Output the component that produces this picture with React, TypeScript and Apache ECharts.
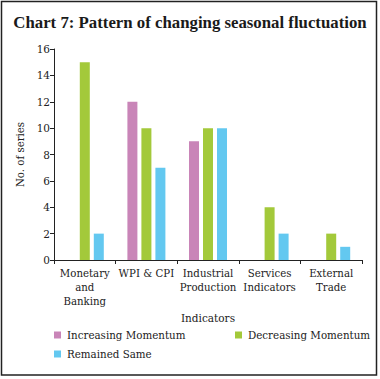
import React, { useEffect, useRef } from "react";
import * as echarts from "echarts";

const categories = ["Monetary\nand\nBanking", "WPI & CPI", "Industrial\nProduction", "Services\nIndicators", "External\nTrade"];
const increasingMomentum = [0, 12, 9, 0, 0];
const decreasingMomentum = [15, 10, 10, 4, 2];
const remainedSame = [2, 7, 10, 2, 1];
const seriesNames = ["Increasing Momentum", "Decreasing Momentum", "Remained Same"];
const colors = ["#c985b8", "#a3c93a", "#63c8f0"];

const FONT = "DejaVu Serif";
const TFONT = "Liberation Serif";

export default function App() {
  const ref = useRef<HTMLDivElement>(null);
  useEffect(() => {
    document.body.style.margin = "0";
    const chart = echarts.init(ref.current!, null, { renderer: "svg" });
    const data = [increasingMomentum, decreasingMomentum, remainedSame];
    const legendPos = [
      { left: 49, top: 325 },
      { left: 230, top: 325 },
      { left: 49, top: 344 },
    ];
    chart.setOption({
      animation: false,
      textStyle: { fontFamily: FONT },
      title: {
        text: "Chart 7: Pattern of changing seasonal fluctuation",
        left: "center",
        top: 9,
        textStyle: { fontFamily: TFONT, fontSize: 16.8, fontWeight: "bold", color: "#1a1a1a" },
      },
      graphic: [
        {
          type: "rect",
          shape: { x: 1.5, y: 1.5, width: 375, height: 373.5 },
          style: { fill: "none", stroke: "#222", lineWidth: 1.5 },
          silent: true,
        },
      ],
      legend: seriesNames.map((n, i) => ({
        data: [n],
        ...legendPos[i],
        orient: "horizontal",
        itemWidth: 7,
        itemHeight: 7,
        icon: "rect",
        textStyle: { fontFamily: FONT, fontSize: 10.3, color: "#222", padding: [0, 0, 0, 1] },
      })),
      grid: { left: 54, right: 18, top: 49, bottom: 119, containLabel: false },
      xAxis: {
        type: "category",
        data: categories,
        name: "Indicators",
        nameLocation: "middle",
        nameGap: 49,
        nameTextStyle: { fontFamily: FONT, fontSize: 10.5, color: "#222" },
        axisLine: { lineStyle: { color: "#222", width: 1 } },
        axisTick: { show: true, length: 4, lineStyle: { color: "#222" } },
        axisLabel: { fontFamily: FONT, fontSize: 10.2, color: "#222", lineHeight: 14, margin: 6, interval: 0 },
      },
      yAxis: {
        type: "value",
        min: 0,
        max: 16,
        interval: 2,
        name: "No. of series",
        nameLocation: "middle",
        nameGap: 24,
        nameRotate: 90,
        nameTextStyle: { fontFamily: FONT, fontSize: 10.2, color: "#222" },
        axisLine: { show: true, lineStyle: { color: "#222", width: 1 } },
        axisTick: { show: true, length: 4, lineStyle: { color: "#222" } },
        axisLabel: { fontFamily: FONT, fontSize: 10.5, color: "#222", margin: 4 },
        splitLine: { show: false },
      },
      series: seriesNames.map((n, i) => ({
        name: n,
        type: "bar",
        data: data[i],
        barWidth: 10,
        barGap: "40%",
        itemStyle: { color: colors[i] },
      })),
    });
    return () => chart.dispose();
  }, []);
  return <div ref={ref} style={{ width: 380, height: 379 }} />;
}
